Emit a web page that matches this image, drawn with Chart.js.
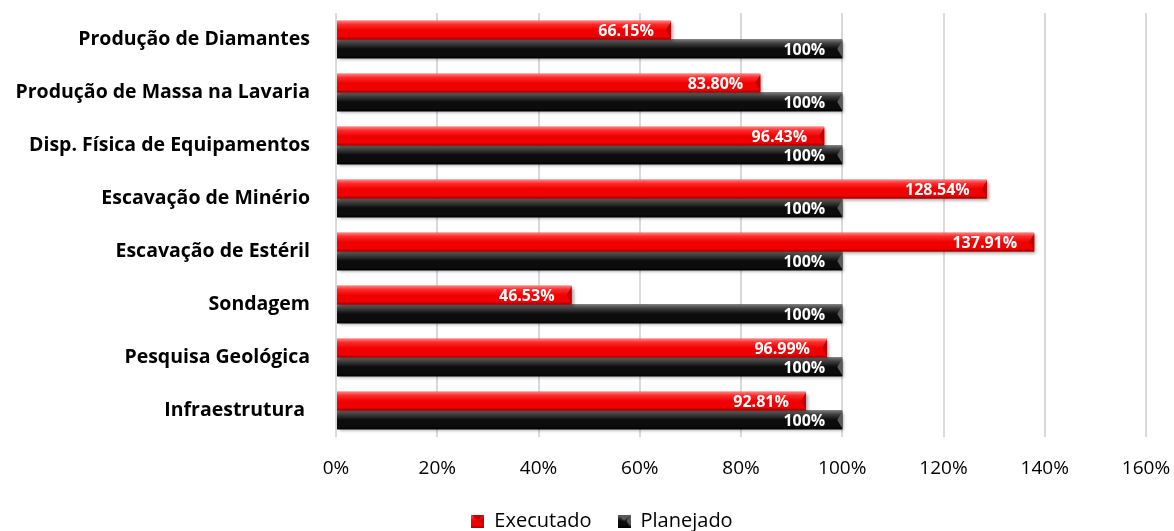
<!DOCTYPE html>
<html lang="pt">
<head>
  <meta charset="UTF-8" />
  <title>Executado vs Planejado</title>
  <script src="https://cdn.jsdelivr.net/npm/chart.js"></script>
  <style>
    html, body { margin: 0; padding: 0; background: #fff; }
    #wrap { width: 1174px; height: 531px; }
  </style>
</head>
<body>
  <div id="wrap"><canvas id="grafico" width="1174" height="531"></canvas></div>

  <script>
    const categorias = [
      "Produção de Diamantes",
      "Produção de Massa na Lavaria",
      "Disp. Física de Equipamentos",
      "Escavação de Minério",
      "Escavação de Estéril",
      "Sondagem",
      "Pesquisa Geológica",
      "Infraestrutura "
    ];
    const executado = [66.15, 83.80, 96.43, 128.54, 137.91, 46.53, 96.99, 92.81];
    const planejado = [100, 100, 100, 100, 100, 100, 100, 100];
    const rotulosExecutado = ["66.15%", "83.80%", "96.43%", "128.54%", "137.91%", "46.53%", "96.99%", "92.81%"];
    const rotulosPlanejado = ["100%", "100%", "100%", "100%", "100%", "100%", "100%", "100%"];
    const ticksX = [0, 20, 40, 60, 80, 100, 120, 140, 160];

    const FONTE = "'Open Sans', 'Noto Sans', sans-serif";

    // cores do efeito bisel (topo, meio, base, ponta)
    const estilos = {
      vermelho: { base: "#f00000", topo: "#ff8080", luz: "#ff2a2a", sombra: "#9a0000", ponta: "#c00000" },
      preto: { base: "#0c0c0c", topo: "#7a7a7a", luz: "#404040", sombra: "#000000", ponta: "#5a5a5a" }
    };

    function pintaBisel(ctx, x0, y0, w, h, est) {
      const b = Math.min(5, h / 3);
      const g = ctx.createLinearGradient(0, y0, 0, y0 + h);
      g.addColorStop(0, est.topo);
      g.addColorStop(0.2, est.luz);
      g.addColorStop(0.5, est.base);
      g.addColorStop(0.85, est.base);
      g.addColorStop(1, est.sombra);
      ctx.fillStyle = g;
      ctx.fillRect(x0, y0, w, h);
      // ponta direita chanfrada
      ctx.fillStyle = est.ponta;
      ctx.beginPath();
      ctx.moveTo(x0 + w, y0 + 1);
      ctx.lineTo(x0 + w - b, y0 + h / 2);
      ctx.lineTo(x0 + w, y0 + h - 1);
      ctx.closePath();
      ctx.fill();
    }

    function quadradoLegenda(est) {
      const c = document.createElement("canvas");
      c.width = 13; c.height = 13;
      const cx = c.getContext("2d");
      pintaBisel(cx, 0, 0, 13, 13, est);
      cx.fillStyle = est.ponta;
      cx.beginPath();
      cx.moveTo(0, 0); cx.lineTo(6.5, 6.5); cx.lineTo(13, 0); cx.closePath();
      cx.fill();
      return c;
    }

    const barrasBisel = {
      id: "barrasBisel",
      afterLayout(chart) {
        // legenda um pouco à direita do centro
        chart.legend.left += 29;
        chart.legend.right += 29;
      },
      beforeDatasetDraw(chart, args) {
        const ctx = chart.ctx;
        ctx.save();
        ctx.shadowColor = "rgba(0,0,0,0.35)";
        ctx.shadowBlur = 3;
        ctx.shadowOffsetX = 2;
        ctx.shadowOffsetY = 2;
      },
      afterDatasetDraw(chart, args) {
        const ctx = chart.ctx;
        ctx.restore();
        const est = args.index === 0 ? estilos.vermelho : estilos.preto;
        ctx.save();
        args.meta.data.forEach(bar => {
          const p = bar.getProps(["x", "y", "base", "height"], true);
          pintaBisel(ctx, p.base, p.y - p.height / 2, p.x - p.base, p.height, est);
        });
        ctx.restore();
      },
      afterDatasetsDraw(chart) {
        const ctx = chart.ctx;
        ctx.save();
        ctx.fillStyle = "#ffffff";
        ctx.font = "bold 16px " + FONTE;
        ctx.textAlign = "right";
        ctx.textBaseline = "middle";
        [rotulosExecutado, rotulosPlanejado].forEach((rotulos, i) => {
          chart.getDatasetMeta(i).data.forEach((bar, j) => {
            ctx.fillText(rotulos[j], bar.x - 17, bar.y + 1.5);
          });
        });
        ctx.restore();
      }
    };

    new Chart(document.getElementById("grafico"), {
      type: "bar",
      data: {
        labels: categorias,
        datasets: [
          {
            label: "Executado",
            data: executado,
            backgroundColor: estilos.vermelho.base,
            pointStyle: quadradoLegenda(estilos.vermelho)
          },
          {
            label: "Planejado",
            data: planejado,
            backgroundColor: estilos.preto.base,
            pointStyle: quadradoLegenda(estilos.preto)
          }
        ]
      },
      options: {
        indexAxis: "y",
        responsive: false,
        animation: false,
        categoryPercentage: 0.71,
        barPercentage: 1.0,
        layout: { padding: { top: 13, right: 28, left: 0, bottom: -10 } },
        plugins: {
          tooltip: { enabled: false },
          legend: {
            position: "bottom",
            labels: {
              usePointStyle: true,
              pointStyleWidth: 13,
              color: "#000",
              font: { family: FONTE, size: 20 },
              padding: 26,
              boxHeight: 13
            }
          }
        },
        scales: {
          x: {
            min: 0,
            max: 160,
            afterBuildTicks: s => { s.ticks = ticksX.map(v => ({ value: v })); },
            ticks: {
              callback: v => v + "%",
              color: "#000",
              font: { family: FONTE, size: 19 },
              padding: 20
            },
            grid: { color: "#d9d9d9", lineWidth: 2, drawTicks: false },
            border: { display: false },
            afterFit: s => {
              s.height = 48;
              s.paddingLeft = 0;
              s.paddingRight = 0;
            }
          },
          y: {
            ticks: {
              color: "#000",
              font: { family: FONTE, size: 19.5, weight: "bold" },
              padding: 26
            },
            grid: { display: false, drawTicks: false },
            border: { display: false },
            afterFit: s => {
              s.width = 336;
              s.paddingTop = 0;
              s.paddingBottom = 0;
            }
          }
        }
      },
      plugins: [barrasBisel]
    });
  </script>
</body>
</html>
